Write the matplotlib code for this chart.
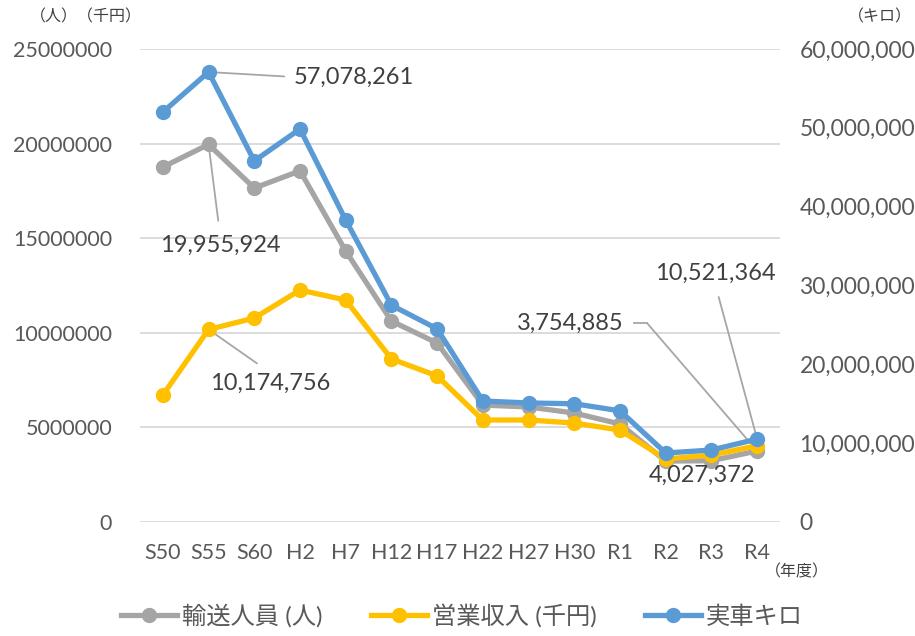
import matplotlib
matplotlib.use("Agg")
import matplotlib.pyplot as plt
from matplotlib.lines import Line2D
from matplotlib.ticker import FuncFormatter

categories = ["S50", "S55", "S60", "H2", "H7", "H12", "H17", "H22", "H27", "H30", "R1", "R2", "R3", "R4"]
passengers = [18760000, 19955924, 17650000, 18560000, 14320000, 10620000, 9460000, 6180000, 6080000, 5760000, 5180000, 3220000, 3240000, 3754885]
revenue = [6710000, 10174756, 10780000, 12260000, 11730000, 8620000, 7720000, 5390000, 5390000, 5230000, 4860000, 3330000, 3540000, 4027372]
car_km = [52000000, 57078261, 45800000, 49850000, 38300000, 27500000, 24500000, 15350000, 15100000, 15000000, 14100000, 8750000, 9130000, 10521364]

names = ["輸送人員 (人)", "営業収入 (千円)", "実車キロ"]
colors = ["#A5A5A5", "#FFC000", "#5B9BD5"]

plt.rcParams['font.family'] = ['Lato', 'Noto Sans CJK JP', 'DejaVu Sans']
TXT = "#595959"
LBL = "#404040"

W, H = 915, 636
fig = plt.figure(figsize=(W / 100, H / 100), dpi=100)
ax = fig.add_axes([140 / W, 1 - 522 / H, (780 - 140) / W, (522 - 49) / H])
ax2 = ax.twinx()

x = list(range(len(categories)))
lw, ms = 3.8, 10
ax.plot(x, passengers, color=colors[0], lw=lw, marker='o', ms=ms, zorder=3, solid_joinstyle='round')
ax.plot(x, revenue, color=colors[1], lw=lw, marker='o', ms=ms, zorder=4, solid_joinstyle='round')
ax2.plot(x, car_km, color=colors[2], lw=lw, marker='o', ms=ms, zorder=5, solid_joinstyle='round')

ax.set_xlim(-0.5, len(categories) - 0.5)
ax.set_ylim(0, 25000000)
ax2.set_ylim(0, 60000000)
ax.set_yticks(range(0, 25000001, 5000000))
ax2.set_yticks(range(0, 60000001, 10000000))
ax.yaxis.set_major_formatter(FuncFormatter(lambda v, p: f"{int(v)}"))
ax2.yaxis.set_major_formatter(FuncFormatter(lambda v, p: f"{int(v):,}"))
ax.set_xticks(x)
ax.set_xticklabels(categories)

for a in (ax, ax2):
    for s in a.spines.values():
        s.set_visible(False)
    a.tick_params(length=0, labelsize=15.5, colors=TXT)
ax2.tick_params(axis='y', labelsize=16.5)
ax.tick_params(axis='y', pad=20)
ax2.tick_params(axis='y', pad=14)
ax.tick_params(axis='x', pad=15)
ax.grid(axis='y', color='#D9D9D9', lw=1.3)
ax.set_axisbelow(True)

# unit labels
fig.text(30 / W, 1 - 17 / H, "（人）（千円）", fontsize=11.5, color=LBL, ha='left', va='center')
fig.text(880 / W, 1 - 17 / H, "（キロ）", fontsize=11.5, color=LBL, ha='center', va='center')
fig.text(797 / W, 1 - 572 / H, "（年度）", fontsize=11.5, color=LBL, ha='center', va='center')

lc = '#A6A6A6'
fs = 17
def fp(px, py):
    return (px, H - py)

# data labels
ax2.annotate(f"{car_km[1]:,}", xy=(1, car_km[1]), xytext=fp(294, 77), textcoords='figure pixels',
             ha='left', va='center', fontsize=fs, color=LBL,
             arrowprops=dict(arrowstyle='-', color=lc, lw=1.3, relpos=(0, 0.5), shrinkA=5, shrinkB=0))
ax.annotate(f"{passengers[1]:,}", xy=(1, passengers[1]), xytext=fp(220, 245), textcoords='figure pixels',
            ha='center', va='center', fontsize=fs, color=LBL,
            arrowprops=dict(arrowstyle='-', color=lc, lw=1.3, relpos=(0.5, 1), shrinkA=8, shrinkB=0))
ax.annotate(f"{revenue[1]:,}", xy=(1, revenue[1]), xytext=fp(270, 383), textcoords='figure pixels',
            ha='center', va='center', fontsize=fs, color=LBL,
            arrowprops=dict(arrowstyle='-', color=lc, lw=1.3, relpos=(0.5, 1), shrinkA=8, shrinkB=0))
ax.text(624 / W, 1 - 323 / H, f"{passengers[-1]:,}", transform=fig.transFigure,
        ha='right', va='center', fontsize=fs, color=LBL)
fig.add_artist(Line2D([634 / W, 647 / W], [1 - 323 / H, 1 - 323 / H], color=lc, lw=1.3))
ax.annotate("", xy=(13, passengers[-1]), xytext=fp(647, 323), textcoords='figure pixels',
            arrowprops=dict(arrowstyle='-', color=lc, lw=1.3, shrinkA=0, shrinkB=0))
ax2.annotate(f"{car_km[-1]:,}", xy=(13, car_km[-1]), xytext=fp(715, 273), textcoords='figure pixels',
             ha='center', va='center', fontsize=fs, color=LBL,
             arrowprops=dict(arrowstyle='-', color=lc, lw=1.3, relpos=(0.5, 0), shrinkA=8, shrinkB=0))
fig.text(702 / W, 1 - 475 / H, f"{revenue[-1]:,}", ha='center', va='center', fontsize=fs, color=LBL, zorder=10)

# legend
handles = [Line2D([], [], color=c, lw=lw, marker='o', ms=ms) for c in colors]
fig.legend(handles, names, loc='center', bbox_to_anchor=(462 / W, 1 - 616 / H), ncol=3, frameon=False,
           fontsize=17.5, labelcolor=TXT, handlelength=2.3, columnspacing=2.0, handletextpad=0.2)

fig.savefig("out.png", dpi=100)
